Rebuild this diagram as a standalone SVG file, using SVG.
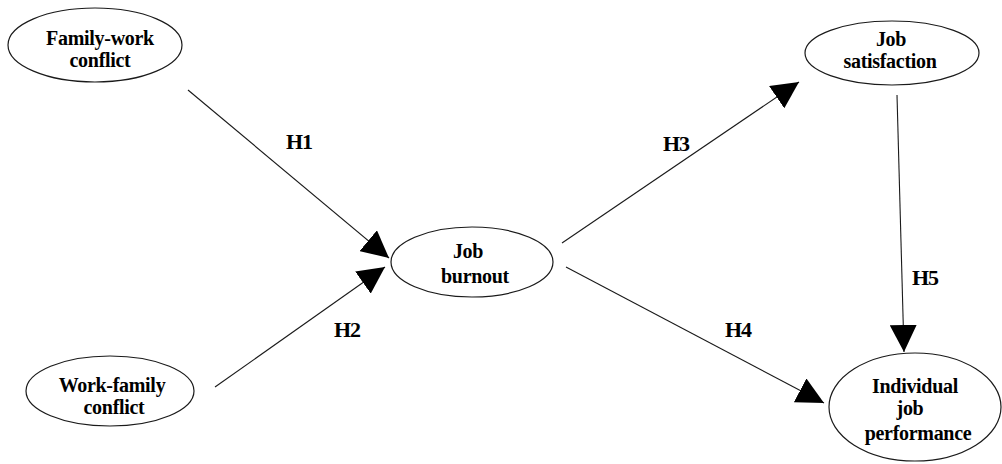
<svg xmlns="http://www.w3.org/2000/svg" width="1002" height="464" viewBox="0 0 1002 464">
  <style>
    .node ellipse { fill: #ffffff; stroke: #1a1a1a; stroke-width: 1.2; }
    .node text { font-family: "Liberation Serif", "Times New Roman", "DejaVu Serif", serif; font-weight: bold; font-size: 20px; letter-spacing: -0.3px; fill: #000; text-anchor: middle; }
    .edge line { stroke: #1a1a1a; stroke-width: 1.1; }
    .lbl { font-family: "Liberation Serif", "Times New Roman", "DejaVu Serif", serif; font-weight: bold; font-size: 22px; letter-spacing: -1px; fill: #000; text-anchor: middle; }
  </style>
  <defs>
    <marker id="arrow" markerUnits="userSpaceOnUse" viewBox="0 0 27 27" markerWidth="27" markerHeight="27" refX="27" refY="13.5" orient="auto">
      <path d="M0,0 L27,13.5 L0,27 Z" fill="#000"/>
    </marker>
  </defs>
  <rect width="1002" height="464" fill="#ffffff"/>

  <g id="connectors" class="edge">
    <g id="e-h1"><line x1="188" y1="90" x2="389" y2="258" marker-end="url(#arrow)"/><text class="lbl" x="299" y="149">H1</text></g>
    <g id="e-h2"><line x1="215" y1="387" x2="385" y2="267" marker-end="url(#arrow)"/><text class="lbl" x="347" y="337">H2</text></g>
    <g id="e-h3"><line x1="562" y1="243" x2="799" y2="82" marker-end="url(#arrow)"/><text class="lbl" x="676" y="151">H3</text></g>
    <g id="e-h4"><line x1="566" y1="267" x2="824" y2="403" marker-end="url(#arrow)"/><text class="lbl" x="738" y="337">H4</text></g>
    <g id="e-h5"><line x1="897" y1="95" x2="904" y2="352" marker-end="url(#arrow)"/><text class="lbl" x="925" y="285">H5</text></g>
  </g>

  <g id="family-work-conflict" class="node">
    <ellipse cx="95" cy="45" rx="87" ry="37"/>
    <text x="100" y="45">Family-work</text>
    <text x="100" y="67">conflict</text>
  </g>
  <g id="work-family-conflict" class="node">
    <ellipse cx="110" cy="391" rx="84" ry="35"/>
    <text x="112" y="392">Work-family</text>
    <text x="114" y="414">conflict</text>
  </g>
  <g id="job-burnout" class="node">
    <ellipse cx="472" cy="262" rx="81" ry="35"/>
    <text x="468" y="258">Job</text>
    <text x="475" y="283">burnout</text>
  </g>
  <g id="job-satisfaction" class="node">
    <ellipse cx="892" cy="53" rx="87" ry="32"/>
    <text x="891" y="46">Job</text>
    <text x="890" y="68">satisfaction</text>
  </g>
  <g id="individual-job-performance" class="node">
    <ellipse cx="915" cy="407" rx="86" ry="54"/>
    <text x="915" y="393">Individual</text>
    <text x="910" y="415">job</text>
    <text x="918" y="440">performance</text>
  </g>
</svg>
